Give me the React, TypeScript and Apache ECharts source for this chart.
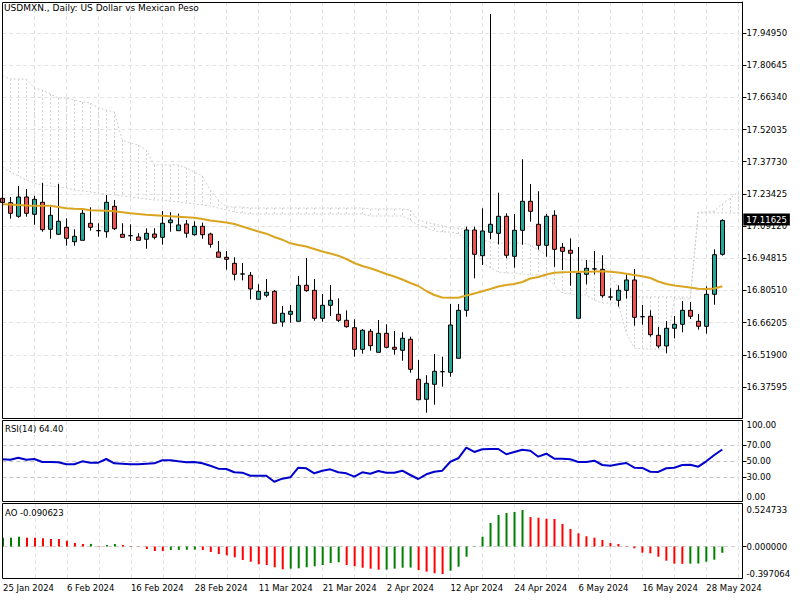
import React, { useEffect, useRef } from 'react';
import * as echarts from 'echarts';

const titleText = 'USDMXN., Daily: US Dollar vs Mexican Peso';

const dates = ['25 Jan 2024','26 Jan 2024','29 Jan 2024','30 Jan 2024','31 Jan 2024','1 Feb 2024','2 Feb 2024','5 Feb 2024','6 Feb 2024','7 Feb 2024','8 Feb 2024','9 Feb 2024','12 Feb 2024','13 Feb 2024','14 Feb 2024','15 Feb 2024','16 Feb 2024','19 Feb 2024','20 Feb 2024','21 Feb 2024','22 Feb 2024','23 Feb 2024','26 Feb 2024','27 Feb 2024','28 Feb 2024','29 Feb 2024','1 Mar 2024','4 Mar 2024','5 Mar 2024','6 Mar 2024','7 Mar 2024','8 Mar 2024','11 Mar 2024','12 Mar 2024','13 Mar 2024','14 Mar 2024','15 Mar 2024','18 Mar 2024','19 Mar 2024','20 Mar 2024','21 Mar 2024','22 Mar 2024','25 Mar 2024','26 Mar 2024','27 Mar 2024','28 Mar 2024','29 Mar 2024','1 Apr 2024','2 Apr 2024','3 Apr 2024','4 Apr 2024','5 Apr 2024','8 Apr 2024','9 Apr 2024','10 Apr 2024','11 Apr 2024','12 Apr 2024','15 Apr 2024','16 Apr 2024','17 Apr 2024','18 Apr 2024','19 Apr 2024','22 Apr 2024','23 Apr 2024','24 Apr 2024','25 Apr 2024','26 Apr 2024','29 Apr 2024','30 Apr 2024','1 May 2024','2 May 2024','3 May 2024','6 May 2024','7 May 2024','8 May 2024','9 May 2024','10 May 2024','13 May 2024','14 May 2024','15 May 2024','16 May 2024','17 May 2024','20 May 2024','21 May 2024','22 May 2024','23 May 2024','24 May 2024','27 May 2024','28 May 2024','29 May 2024','30 May 2024','31 May 2024','3 Jun 2024'];

const openP = [17.2147,17.1952,17.1347,17.2205,17.1436,17.1970,17.0769,17.0547,17.0858,17.0218,
17.0280,17.1036,17.0712,17.0663,17.1792,17.0547,17.0487,17.0427,17.0325,17.0560,
17.0414,17.1063,17.0707,17.1005,17.0529,17.0903,17.0560,16.9760,16.9525,16.9258,
16.8785,16.8725,16.7658,16.7836,16.8013,16.6649,16.6991,16.6680,16.8280,16.8058,
16.6813,16.7391,16.6991,16.6724,16.6395,16.5435,16.6235,16.5302,16.6146,16.5524,
16.5391,16.5880,16.4102,16.3213,16.3879,16.4442,16.4413,16.5035,16.7169,17.0738,
16.9596,17.0636,17.0592,17.1347,16.9569,17.0725,17.2014,17.0992,17.0058,17.1392,
16.9969,16.9836,16.6813,16.8769,16.9005,16.8991,16.7762,16.7613,16.8058,16.8516,
16.6886,16.6902,16.6058,16.5582,16.6369,16.6547,16.7169,16.6680,16.6458,16.7880,
16.9658];
const closeP = [17.1961,17.1481,17.2205,17.1481,17.2103,17.0752,17.1392,17.1125,17.0369,17.0458,
17.1481,17.0858,17.0705,17.1970,17.0796,17.0414,17.0483,17.0280,17.0592,17.0414,
17.1036,17.1183,17.0961,17.0592,17.0903,17.0529,17.0103,16.9525,16.9436,16.8769,
16.8780,16.8116,16.8013,16.7969,16.6591,16.7036,16.7124,16.8280,16.8040,16.6813,
16.7391,16.7613,16.6724,16.6440,16.5435,16.6280,16.5595,16.6146,16.5524,16.5435,
16.5924,16.4546,16.3195,16.3924,16.4457,16.4437,16.6515,16.7169,17.0738,16.9658,
17.0694,17.0992,17.1347,16.9614,17.0725,17.2014,17.1569,17.0058,17.1347,16.9880,
16.9791,16.9703,16.8814,16.9036,16.9010,16.7818,16.7758,16.8058,16.8516,16.6858,
16.6882,16.6084,16.5582,16.6369,16.6547,16.7169,16.6902,16.6458,16.7880,16.9640,
17.11625];
const lowP = [17.1894,17.1240,17.1285,17.1330,17.0974,17.0663,17.0351,17.0516,17.0040,17.0040,
17.0280,17.0707,17.0440,17.0396,17.0738,17.0414,17.0249,17.0280,16.9907,17.0325,
17.0085,17.0663,17.0694,17.0396,17.0485,17.0351,16.9951,16.9525,16.8974,16.8502,
16.8502,16.7658,16.7658,16.7747,16.6591,16.6440,16.6618,16.6680,16.7996,16.6707,
16.6662,16.6916,16.6649,16.6395,16.5106,16.5240,16.5373,16.5302,16.5480,16.5195,
16.4928,16.4395,16.3168,16.2617,16.2973,16.3773,16.4217,16.5035,16.6884,16.8591,
16.9183,17.0325,17.0103,16.9480,16.9062,17.0085,17.1107,16.9863,16.9551,16.9107,
16.8960,16.8262,16.6813,16.8325,16.8760,16.7729,16.7613,16.7329,16.7685,16.6484,
16.6529,16.5995,16.5480,16.5257,16.5924,16.6191,16.6782,16.6307,16.6129,16.7418,
16.9596];
const highP = [17.2250,17.2205,17.2694,17.2561,17.2263,17.2828,17.1774,17.2783,17.1258,17.0769,
17.1685,17.1747,17.1036,17.2294,17.2072,17.1036,17.0992,17.0592,17.0814,17.0814,
17.1583,17.1525,17.1463,17.1183,17.1125,17.1063,17.0618,17.0249,16.9805,16.9525,
16.9271,16.8871,16.8325,16.8560,16.8071,16.7360,16.7404,16.8694,16.9494,16.8560,
16.7893,16.8294,16.7702,16.7169,16.6769,16.6338,16.6338,16.6738,16.6547,16.6249,
16.6191,16.5995,16.4960,16.4284,16.5226,16.5106,16.7449,16.7449,17.0885,17.0885,
17.1703,18.0340,17.2396,17.1481,17.1450,17.3881,17.2783,17.2459,17.1450,17.1614,
17.0160,17.0369,16.9983,16.9405,16.9805,16.9614,16.8147,16.8280,16.8769,16.9005,
16.7404,16.7169,16.6426,16.6693,16.6916,16.7582,16.7538,16.7004,16.8236,16.9880,
17.1214];

const maValues = [17.1881,17.1872,17.1850,17.1828,17.1819,17.1819,17.1819,17.1761,17.1703,17.1685,
17.1672,17.1614,17.1605,17.1596,17.1574,17.1530,17.1481,17.1450,17.1414,17.1396,
17.1374,17.1352,17.1330,17.1308,17.1285,17.1227,17.1156,17.1116,17.1072,17.1005,
17.0894,17.0783,17.0671,17.0574,17.0427,17.0307,17.0147,17.0072,17.0005,16.9894,
16.9783,16.9694,16.9596,16.9449,16.9271,16.9138,16.9036,16.8916,16.8782,16.8671,
16.8538,16.8382,16.8249,16.8027,16.7849,16.7738,16.7729,16.7729,16.7827,16.7916,
16.8013,16.8116,16.8227,16.8294,16.8338,16.8427,16.8582,16.8649,16.8760,16.8840,
16.8863,16.8871,16.8885,16.8885,16.8893,16.8902,16.8885,16.8849,16.8796,16.8738,
16.8680,16.8605,16.8449,16.8338,16.8271,16.8227,16.8182,16.8129,16.8116,16.8138,
16.8236];

const cloudTop = [17.7584,17.7450,17.7450,17.7450,17.7050,17.6961,17.6784,17.6606,17.6606,17.6517,
17.6428,17.6383,17.6161,17.6072,17.5983,17.4739,17.4605,17.4517,17.4294,17.3628,
17.3628,17.3628,17.3628,17.3494,17.3316,17.3138,17.2516,17.2072,17.1761,17.1761,
17.1761,17.1716,17.1716,17.1716,17.1716,17.1716,17.1716,17.1716,17.1716,17.1716,
17.1716,17.1716,17.1716,17.1716,17.1716,17.1716,17.1672,17.1672,17.1672,17.1672,
17.1672,17.1627,17.1183,17.1094,17.1005,17.0916,17.0827,17.0827,17.0783,17.0649,
17.0294,17.0205,17.0160,17.0160,17.0160,17.0160,17.0071,16.9849,16.9627,16.9494,
16.9405,16.9405,16.9405,16.9405,16.9316,16.9316,16.8738,16.8160,16.7760,16.7760,
16.7760,16.7760,16.7760,16.7760,16.7760,16.7760,16.7760,17.1538,17.1538,17.1583,
17.1894,17.2161,17.2428];
const cloudBottom = [17.3539,17.3316,17.3138,17.2961,17.2827,17.2739,17.2694,17.2650,17.2606,17.2516,
17.2472,17.2427,17.2383,17.2338,17.2294,17.2250,17.2205,17.2161,17.2116,17.2072,
17.2072,17.2027,17.1983,17.1938,17.1894,17.1850,17.1805,17.1716,17.1627,17.1538,
17.1494,17.1450,17.1450,17.1450,17.1450,17.1450,17.1450,17.1450,17.1450,17.1450,
17.1450,17.1450,17.1450,17.1450,17.1450,17.1450,17.1361,17.1361,17.1361,17.1361,
17.1361,17.1183,17.0961,17.0827,17.0694,17.0650,17.0650,17.0560,17.0294,16.9938,
16.9316,16.9049,16.8871,16.8827,16.8827,16.8782,16.8738,16.8738,16.8649,16.8293,
16.7938,16.7893,16.7849,16.7849,16.7627,16.7493,16.7493,16.7493,16.6160,16.5493,
16.5448,16.5448,16.5448,16.5448,16.7671,16.7671,16.7671,17.1494,17.1494,17.1494,
17.1494,17.1494,17.1494];

const rsiValues = [52.1,51.6,54.1,51.6,52.5,48.8,48.8,48.4,45.9,45.9,
49.6,47.9,47.9,52.5,47.1,46.6,45.9,45.9,46.6,47.1,
50.9,50.9,49.6,48.4,48.8,47.1,44.1,40.4,40.0,35.9,
35.4,31.6,31.6,31.6,24.1,27.9,29.6,41.6,40.9,34.6,
37.9,39.6,35.9,34.6,30.4,35.9,34.1,37.5,35.4,35.4,
37.9,32.5,27.5,33.4,36.6,37.9,49.1,53.4,66.6,61.3,
64.6,65.0,65.0,58.4,61.3,64.1,62.9,55.4,59.1,52.9,
52.9,52.1,48.8,48.8,50.4,45.0,44.1,45.9,47.5,41.6,
41.3,36.6,36.3,40.9,41.6,45.0,45.4,42.9,49.6,57.5,
64.40];

const aoValues = [0.125,0.127,0.141,0.127,0.126,0.118,0.108,0.107,0.083,0.050,
0.036,0.037,0.007,0.022,0.036,0.022,0.007,-0.003,-0.036,-0.065,
-0.066,-0.050,-0.049,-0.046,-0.045,-0.050,-0.079,-0.108,-0.127,-0.155,
-0.194,-0.219,-0.256,-0.266,-0.299,-0.328,-0.319,-0.314,-0.299,-0.285,
-0.266,-0.237,-0.227,-0.266,-0.285,-0.305,-0.319,-0.334,-0.333,-0.319,
-0.305,-0.303,-0.338,-0.362,-0.385,-0.397064,-0.348,-0.291,-0.147,0.005,
0.141,0.338,0.453,0.482,0.496,0.524733,0.424,0.414,0.400,0.396,
0.324,0.252,0.190,0.147,0.127,0.094,0.050,0.036,0.007,-0.026,
-0.089,-0.098,-0.147,-0.204,-0.247,-0.249,-0.247,-0.245,-0.219,-0.190,
-0.090623];

const priceTicks = [17.9495,17.80645,17.6634,17.52035,17.3773,17.23425,17.0912,16.94815,16.8051,16.66205,16.519,16.37595];
const rsiTicks = [0,30,50,70,100];
const rsiLevels = [30,50,70];
const aoTicks = [-0.397064,0,0.524733];
const aoLevels = [0];
const lastPrice = 17.11625;

const FONT = 'DejaVu Sans';
const FS = 8.5;
const GL = 2.3;
const GW = 736;
const YOFF = 4.2;
const gridColor = '#e3e3e3';

export default function App() {
  const ref = useRef<HTMLDivElement>(null);
  useEffect(() => {
    const chart = echarts.init(ref.current as HTMLDivElement, null, { renderer: 'svg' });
    const candleData = openP.map((o, i) => [o, closeP[i], lowP[i], highP[i]]);
    const aoData = aoValues.map((v, i) => ({
      value: v,
      itemStyle: { color: i === 0 || v > aoValues[i - 1] ? '#008000' : '#ff0000' },
    }));
    const xBase = (gi: number, showLabel: boolean) => ({
      type: 'category',
      gridIndex: gi,
      data: dates,
      boundaryGap: false,
      axisLine: { show: false },
      axisTick: { show: false },
      axisLabel: showLabel
        ? {
            show: true,
            interval: (idx: number) => idx % 8 === 0 && idx <= 88,
            align: 'left',
            margin: 5,
            color: '#000',
            fontSize: FS,
            fontFamily: FONT,
          }
        : { show: false },
      splitLine: {
        show: true,
        interval: (idx: number) => idx % 4 === 0 && idx > 0,
        lineStyle: { color: gridColor, type: [4, 3], width: 1 },
      },
    });
    const labelStyle = { color: '#000', fontSize: FS, fontFamily: FONT };
    const option: any = {
      animation: false,
      backgroundColor: '#fff',
      grid: [
        { left: GL, top: 2, width: GW, height: 416 },
        { left: GL, top: 421, width: GW, height: 80 },
        { left: GL, top: 504, width: GW, height: 74 },
      ],
      xAxis: [xBase(0, false), xBase(1, false), xBase(2, true)],
      yAxis: [
        {
          type: 'value', gridIndex: 0, position: 'right', offset: YOFF,
          min: 16.2381, max: 18.0873,
          axisLine: { show: true, lineStyle: { color: '#000', width: 1 } },
          axisTick: { show: true, length: 4, customValues: priceTicks, lineStyle: { color: '#000' } },
          axisLabel: { customValues: priceTicks, formatter: (v: number) => v.toFixed(5), margin: 4, ...labelStyle },
          splitLine: { show: true, lineStyle: { color: gridColor, type: [4, 3], width: 1 } },
        },
        {
          type: 'value', gridIndex: 1, position: 'right', offset: YOFF,
          min: 0, max: 100,
          axisLine: { show: true, lineStyle: { color: '#000', width: 1 } },
          axisTick: { show: true, length: 4, customValues: rsiLevels, lineStyle: { color: '#000' } },
          axisLabel: {
            customValues: rsiTicks,
            formatter: (v: number) => (v === 100 ? '{t|100.00}' : v === 0 ? '{b|0.00}' : v.toFixed(2)),
            margin: 4,
            ...labelStyle,
            rich: {
              t: { padding: [8, 0, 0, 0], ...labelStyle },
              b: { padding: [0, 0, 8, 0], ...labelStyle },
            },
          },
          splitLine: { show: true, lineStyle: { color: '#c4c4c4', type: [4, 3], width: 1 } },
        },
        {
          type: 'value', gridIndex: 2, position: 'right', offset: YOFF,
          min: -0.4532, max: 0.6115,
          axisLine: { show: true, lineStyle: { color: '#000', width: 1 } },
          axisTick: { show: true, length: 4, customValues: aoLevels, lineStyle: { color: '#000' } },
          axisLabel: { customValues: aoTicks, formatter: (v: number) => v.toFixed(6), margin: 4, ...labelStyle },
          splitLine: { show: true, lineStyle: { color: '#d0d0d0', type: [4, 3], width: 1 } },
        },
      ],
      series: [
        {
          name: 'cloud',
          type: 'custom',
          xAxisIndex: 0, yAxisIndex: 0,
          z: 1,
          clip: true,
          silent: true,
          data: cloudTop.map((t, i) => [i, t, cloudBottom[i]]),
          encode: { x: 0, y: [1, 2] },
          renderItem: (params: any, api: any) => {
            const p1 = api.coord([api.value(0), api.value(1)]);
            const p2 = api.coord([api.value(0), api.value(2)]);
            const x = Math.round(p1[0]) + 0.5;
            return {
              type: 'line',
              shape: { x1: x, y1: p1[1], x2: x, y2: p2[1] },
              style: { stroke: '#d4d4d4', lineWidth: 1, lineDash: [2, 2] },
            };
          },
        },
        {
          name: 'spanA', type: 'line', xAxisIndex: 0, yAxisIndex: 0, data: cloudTop,
          symbol: 'none', z: 1, silent: true,
          lineStyle: { color: '#cfcfcf', width: 1, type: [2, 2] },
        },
        {
          name: 'spanB', type: 'line', xAxisIndex: 0, yAxisIndex: 0, data: cloudBottom,
          symbol: 'none', z: 1, silent: true,
          lineStyle: { color: '#cfcfcf', width: 1, type: [2, 2] },
        },
        {
          name: 'USDMXN', type: 'candlestick', xAxisIndex: 0, yAxisIndex: 0,
          data: candleData, barWidth: 5, z: 3,
          itemStyle: {
            color: '#26a69a', color0: '#ef5350',
            borderColor: '#000', borderColor0: '#000', borderColorDoji: '#000', borderWidth: 1,
          },
          markLine: {
            silent: true, symbol: ['none', 'none'],
            data: [{ yAxis: lastPrice }],
            lineStyle: { color: 'rgba(0,0,0,0)', width: 0, opacity: 1 },
            label: {
              show: true, position: 'end', distance: 5, opacity: 1,
              formatter: () => lastPrice.toFixed(5),
              color: '#fff', backgroundColor: '#000', padding: [2, 3, 1, 3],
              fontSize: FS, fontFamily: FONT,
            },
          },
        },
        {
          name: 'MA', type: 'line', xAxisIndex: 0, yAxisIndex: 0, data: maValues,
          symbol: 'none', z: 4, silent: true,
          lineStyle: { color: '#DAA520', width: 2 },
        },
        {
          name: 'RSI', type: 'line', xAxisIndex: 1, yAxisIndex: 1, data: rsiValues,
          symbol: 'none', z: 3, silent: true,
          lineStyle: { color: '#0000CD', width: 2 },
        },
        {
          name: 'AO', type: 'bar', xAxisIndex: 2, yAxisIndex: 2, data: aoData,
          barWidth: 2, z: 3, silent: true,
        },
      ],
      graphic: [
        { type: 'rect', z: 100, silent: true, shape: { x: 2.5, y: 2.5, width: 740, height: 416 }, style: { fill: 'none', stroke: '#000', lineWidth: 1 } },
        { type: 'rect', z: 100, silent: true, shape: { x: 2.5, y: 420.5, width: 740, height: 81 }, style: { fill: 'none', stroke: '#000', lineWidth: 1 } },
        { type: 'rect', z: 100, silent: true, shape: { x: 2.5, y: 503.5, width: 740, height: 75 }, style: { fill: 'none', stroke: '#000', lineWidth: 1 } },
        { type: 'text', z: 101, silent: true, x: 4, y: 8, style: { text: titleText, fill: '#000', font: `9px "${FONT}"`, verticalAlign: 'middle' } },
        { type: 'text', z: 101, silent: true, x: 5, y: 429, style: { text: 'RSI(14) ' + rsiValues[rsiValues.length - 1].toFixed(2), fill: '#000', font: `${FS}px "${FONT}"`, verticalAlign: 'middle' } },
        { type: 'text', z: 101, silent: true, x: 5, y: 513, style: { text: 'AO ' + aoValues[aoValues.length - 1].toFixed(6), fill: '#000', font: `${FS}px "${FONT}"`, verticalAlign: 'middle' } },
      ],
    };
    chart.setOption(option);
    return () => chart.dispose();
  }, []);
  return <div ref={ref} style={{ position: 'fixed', left: 0, top: 0, width: 800, height: 600, background: '#fff' }} />;
}
